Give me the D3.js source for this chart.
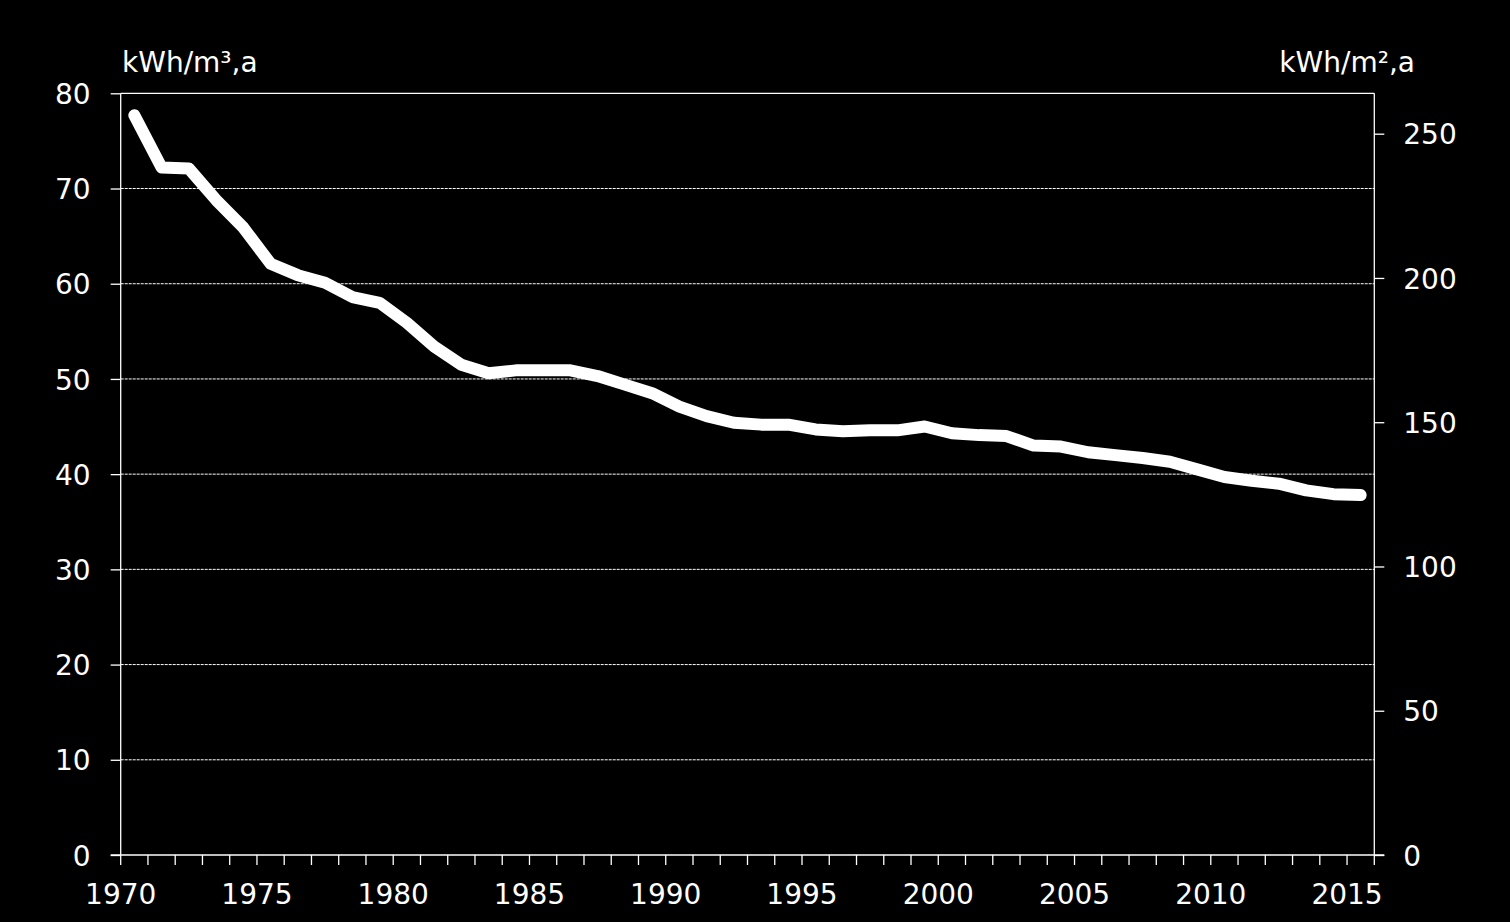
<!DOCTYPE html>
<html>
<head>
<meta charset="utf-8">
<script src="https://cdn.jsdelivr.net/npm/d3@7"></script>
<style>
html,body{margin:0;padding:0;background:#000;}
svg{display:block;}
text{font-family:"DejaVu Sans",Verdana,sans-serif;fill:#fff;}
</style>
</head>
<body>
<svg id="chart" width="1510" height="922"></svg>
<script>
const years = d3.range(1970, 2016);
const values = [77.7,72.2,72.1,68.8,65.9,62.1,60.9,60.1,58.6,58.0,
  55.9,53.4,51.5,50.6,50.9,50.9,50.9,50.3,49.4,48.5,
  47.1,46.1,45.4,45.2,45.2,44.7,44.5,44.6,44.6,45.0,
  44.3,44.1,44.0,43.0,42.9,42.3,42.0,41.7,41.3,40.5,
  39.7,39.3,39.0,38.3,37.9,37.8];
const leftTicks = [0,10,20,30,40,50,60,70,80];
const rightTicks = [0,50,100,150,200,250];
const xLabelYears = [1970,1975,1980,1985,1990,1995,2000,2005,2010,2015];
const leftUnit = "kWh/m³,a";
const rightUnit = "kWh/m²,a";
const ratio = 3.3;

const svg = d3.select("#chart");
const L = 120.7, R = 1374.3, T = 93.3, B = 855;

const x = d3.scaleBand().domain(years).range([L, R]).padding(0);
const y = d3.scaleLinear().domain([0, 80]).range([B, T]);
const y2 = d3.scaleLinear().domain([0, 80 * ratio]).range([B, T]);

// gridlines
svg.append("g").selectAll("line").data(leftTicks.filter(d => d > 0 && d < 80)).join("line")
  .attr("x1", L).attr("x2", R).attr("y1", d => y(d)).attr("y2", d => y(d))
  .attr("stroke", "#fff").attr("stroke-width", 1).attr("stroke-dasharray", "3,1");

// top border
svg.append("line").attr("x1", L).attr("x2", R).attr("y1", T).attr("y2", T)
  .attr("stroke", "#fff").attr("stroke-width", 1.3);

// left axis
const gl = svg.append("g").attr("transform", `translate(${L},0)`)
  .call(d3.axisLeft(y).tickValues(leftTicks).tickSize(10).tickPadding(20).tickFormat(d3.format("d")));
gl.select(".domain").remove();
gl.append("line").attr("x1", 0).attr("x2", 0).attr("y1", T).attr("y2", B + 10).attr("stroke", "#fff").attr("stroke-width", 1.3);
gl.selectAll(".tick line").attr("stroke", "#fff").attr("stroke-width", 1.3);
gl.selectAll(".tick text").style("font-size", "28px").attr("dy", "0.36em");

// right axis
const gr = svg.append("g").attr("transform", `translate(${R},0)`)
  .call(d3.axisRight(y2).tickValues(rightTicks).tickSize(10).tickPadding(19).tickFormat(d3.format("d")));
gr.select(".domain").remove();
gr.append("line").attr("x1", 0).attr("x2", 0).attr("y1", T).attr("y2", B + 10).attr("stroke", "#fff").attr("stroke-width", 1.3);
gr.selectAll(".tick line").attr("stroke", "#fff").attr("stroke-width", 1.3);
gr.selectAll(".tick text").style("font-size", "28px").attr("dy", "0.36em");

// bottom axis
const gb = svg.append("g").attr("transform", `translate(0,${B})`);
gb.append("line").attr("x1", L - 10).attr("x2", R + 10).attr("y1", 0).attr("y2", 0).attr("stroke", "#fff").attr("stroke-width", 1.3);
gb.selectAll("line.tk").data(years.slice(1)).join("line").attr("class", "tk")
  .attr("x1", d => x(d)).attr("x2", d => x(d)).attr("y1", 0).attr("y2", 10)
  .attr("stroke", "#fff").attr("stroke-width", 1.3);
gb.selectAll("text").data(xLabelYears).join("text")
  .attr("x", d => x(d)).attr("y", 49)
  .attr("text-anchor", "middle").style("font-size", "28px").text(d => d);

// unit labels
svg.append("text").attr("x", 122).attr("y", 72).style("font-size", "28px").text(leftUnit);
svg.append("text").attr("x", 1415).attr("y", 72).attr("text-anchor", "end").style("font-size", "28px").text(rightUnit);

// line
const line = d3.line().x((d, i) => x(years[i]) + x.bandwidth() / 2).y(d => y(d));
svg.append("path").datum(values).attr("d", line)
  .attr("fill", "none").attr("stroke", "#fff").attr("stroke-width", 12)
  .attr("stroke-linecap", "round").attr("stroke-linejoin", "round");
</script>
</body>
</html>
